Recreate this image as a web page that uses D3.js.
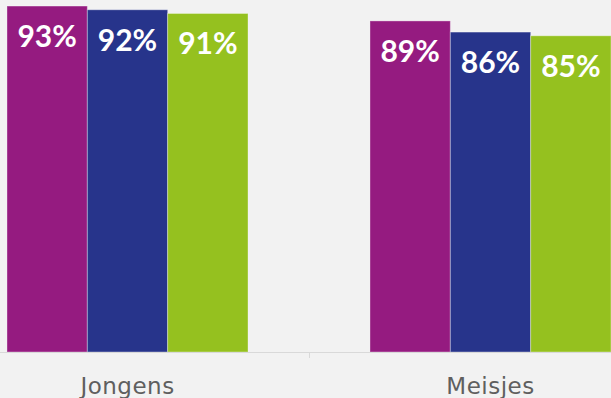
<!DOCTYPE html>
<html>
<head>
<meta charset="utf-8">
<script src="https://cdn.jsdelivr.net/npm/d3@7"></script>
<style>
  html, body { margin: 0; padding: 0; background: #f2f2f2; overflow: hidden; }
  svg { display: block; }
</style>
</head>
<body>
<svg id="chart" width="611" height="398"></svg>
<script>
// Share of respondents per group, three series per category
const categories = ["Jongens", "Meisjes"];
const seriesNames = ["s1", "s2", "s3"];
const seriesColors = ["#951b80", "#27348b", "#95c11f"];
const valuesS1 = [93, 89];
const valuesS2 = [92, 86];
const valuesS3 = [91, 85];

const series = [valuesS1, valuesS2, valuesS3];

const W = 611, H = 398;
const baseline = 352;

const svg = d3.select("#chart");
svg.append("rect").attr("width", W).attr("height", H).attr("fill", "#f2f2f2");

// Plot area is wider than the window; the right edge is cropped
const x0 = d3.scaleBand()
  .domain(categories)
  .range([-54, 672])
  .paddingInner(0)
  .paddingOuter(0);

const groupWidth = x0.bandwidth() * 0.664;
const x1 = d3.scaleBand()
  .domain(seriesNames)
  .range([0, groupWidth])
  .padding(0);

const y = d3.scaleLinear().domain([0, 100]).range([baseline, -20]);

const rows = [];
categories.forEach((c, i) => {
  seriesNames.forEach((s, j) => {
    rows.push({ cat: c, ser: s, color: seriesColors[j], value: series[j][i] });
  });
});

const offset = (x0.bandwidth() - groupWidth) / 2;

const bars = svg.append("g");
bars.selectAll("rect")
  .data(rows)
  .join("rect")
  .attr("x", d => x0(d.cat) + offset + x1(d.ser))
  .attr("y", d => y(d.value))
  .attr("width", x1.bandwidth())
  .attr("height", d => baseline - y(d.value))
  .attr("fill", d => d.color)
  .attr("stroke", "rgba(255,255,255,0.35)")
  .attr("stroke-width", 1);

// Value labels inside the top of each bar
svg.append("g").selectAll("text")
  .data(rows)
  .join("text")
  .attr("x", d => x0(d.cat) + offset + x1(d.ser) + x1.bandwidth() / 2)
  .attr("y", d => y(d.value) + 41)
  .attr("text-anchor", "middle")
  .attr("fill", "#ffffff")
  .attr("font-family", "Lato, 'Open Sans', sans-serif")
  .attr("font-weight", "bold")
  .attr("font-size", 30)
  .text(d => d.value + "%");

// Category axis
const axis = svg.append("g").attr("transform", `translate(0,${baseline})`);
axis.append("line")
  .attr("x1", 0).attr("x2", W)
  .attr("y1", 0.5).attr("y2", 0.5)
  .attr("stroke", "#d9d9d9").attr("stroke-width", 1);
axis.selectAll(".tick")
  .data(categories.slice(1))
  .join("line")
  .attr("x1", d => x0(d) + 0.5).attr("x2", d => x0(d) + 0.5)
  .attr("y1", 0).attr("y2", 6)
  .attr("stroke", "#d9d9d9");
axis.selectAll(".cat")
  .data(categories)
  .join("text")
  .attr("x", d => x0(d) + x0.bandwidth() / 2)
  .attr("y", 42)
  .attr("text-anchor", "middle")
  .attr("fill", "#5f5f5f")
  .attr("font-family", "'DejaVu Sans', sans-serif")
  .attr("font-size", 23)
  .attr("letter-spacing", 0.5)
  .text(d => d);
</script>
</body>
</html>
